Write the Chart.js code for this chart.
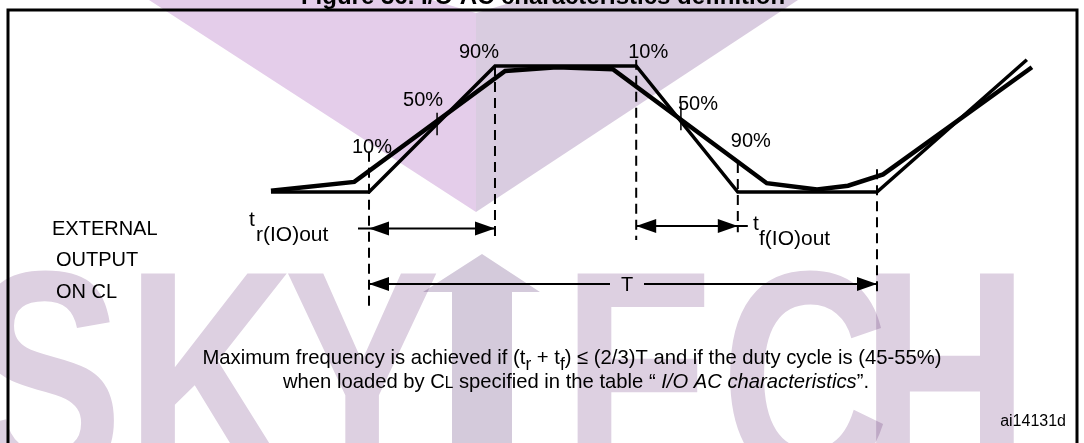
<!DOCTYPE html>
<html>
<head>
<meta charset="utf-8">
<script src="https://cdn.jsdelivr.net/npm/chart.js@4.4.1/dist/chart.umd.min.js"></script>
<style>
  html, body { margin: 0; padding: 0; background: #fff; }
  canvas { display: block; }
</style>
</head>
<body>
<canvas id="chart" width="1084" height="443"></canvas>
<script>
// time axis: 0 = 10% point of the rise (start of T), 100 = end of T
// level axis: 0 = low, 1 = high
const idealT = [-19.3, 0, 24.8, 52.6, 72.6, 100, 129.5];
const idealV = [0, 0, 1, 1, 0, 0, 1.05];
const loadedT = [-19.3, -2.9, 26.8, 37.0, 48.0, 78.3, 88.2, 94.3, 101.2, 130.5];
const loadedV = [0.01, 0.08, 0.96, 0.99, 0.975, 0.07, 0.02, 0.05, 0.14, 0.99];

const riseLabels = ['10%', '50%', '90%'];
const riseT = [0, 13.4, 24.8];
const fallLabels = ['10%', '50%', '90%'];
const fallT = [52.6, 61.4, 72.6];
const periodT = [0, 100];

const FONT = '"Liberation Sans", Arial, sans-serif';

// guide lines: [time, top level, bottom level, dashed]
const guides = [
  [riseT[0], 0.32, -0.91, true],
  [riseT[1], 0.63, 0.45, false],
  [riseT[2], 1.0, -0.37, true],
  [fallT[0], 1.05, -0.38, true],
  [fallT[1], 0.71, 0.49, false],
  [fallT[2], 0.23, -0.32, true],
  [periodT[1], 0.18, -0.82, true]
];

const pts = (ts, vs) => ts.map((t, i) => ({x: t, y: vs[i]}));

const datasets = [
  {data: pts(loadedT, loadedV), borderColor: '#000', borderWidth: 4.5, pointRadius: 0, tension: 0, borderJoinStyle: 'miter'},
  {data: pts(idealT, idealV), borderColor: '#000', borderWidth: 3.5, pointRadius: 0, tension: 0, borderJoinStyle: 'miter'}
];
guides.forEach(g => datasets.push({
  data: [{x: g[0], y: g[1]}, {x: g[0], y: g[2]}],
  borderColor: '#000', borderWidth: g[3] ? 2 : 1.5,
  borderDash: g[3] ? [10, 6] : [], pointRadius: 0
}));

function arrowHead(ctx, x, y, dir) {
  ctx.beginPath();
  ctx.moveTo(x, y);
  ctx.lineTo(x - dir * 20, y - 7);
  ctx.lineTo(x - dir * 20, y + 7);
  ctx.closePath();
  ctx.fill();
}

function hline(ctx, x1, x2, y) {
  ctx.beginPath(); ctx.moveTo(x1, y); ctx.lineTo(x2, y); ctx.stroke();
}

// rich text: segments {t, sub, it, sc}, stretched to a given width
function rich(ctx, segs, cx, y, size, width) {
  const f = s => (s.it ? 'italic ' : '') + Math.round(size * (s.sc ? 0.78 : s.sub ? 0.85 : 1)) + 'px ' + FONT;
  let w = 0;
  segs.forEach(s => { ctx.font = f(s); w += ctx.measureText(s.t).width; });
  ctx.save();
  ctx.translate(cx, y);
  ctx.scale(width / w, 1);
  let x = -w / 2;
  segs.forEach(s => {
    ctx.font = f(s);
    ctx.fillText(s.t, x, s.sub ? size * 0.28 : 0);
    x += ctx.measureText(s.t).width;
  });
  ctx.restore();
}

const sketch = {
  id: 'sketch',
  afterDatasetsDraw(chart) {
    const {ctx, scales: {x, y}} = chart;
    const px = t => x.getPixelForValue(t), py = v => y.getPixelForValue(v);
    ctx.save();
    ctx.fillStyle = '#000';
    ctx.strokeStyle = '#000';
    ctx.textBaseline = 'alphabetic';

    // percentage labels
    ctx.font = '20px ' + FONT;
    ctx.textAlign = 'center';
    const riseOff = [[3, 153], [-14, 106], [-16, 58]];
    riseLabels.forEach((l, i) => ctx.fillText(l, px(riseT[i]) + riseOff[i][0], riseOff[i][1]));
    const fallOff = [[12, 58], [17, 110], [13, 147]];
    fallLabels.forEach((l, i) => ctx.fillText(l, px(fallT[i]) + fallOff[i][0], fallOff[i][1]));

    // rise time arrow
    ctx.lineWidth = 2;
    const yr = py(-0.29);
    hline(ctx, px(riseT[0]) - 11, px(riseT[2]), yr);
    arrowHead(ctx, px(riseT[0]), yr, -1);
    arrowHead(ctx, px(riseT[2]), yr, 1);
    // fall time arrow
    const yf = py(-0.27);
    hline(ctx, px(fallT[0]), px(fallT[2]) + 10, yf);
    arrowHead(ctx, px(fallT[0]), yf, -1);
    arrowHead(ctx, px(fallT[2]), yf, 1);
    // period arrow
    const yT = py(-0.73);
    const tc = px((periodT[0] + periodT[1]) / 2) + 4;
    hline(ctx, px(periodT[0]), tc - 17, yT);
    hline(ctx, tc + 17, px(periodT[1]), yT);
    arrowHead(ctx, px(periodT[0]), yT, -1);
    arrowHead(ctx, px(periodT[1]), yT, 1);
    ctx.font = '20px ' + FONT;
    ctx.fillText('T', tc, yT + 7);

    // timing labels
    ctx.textAlign = 'left';
    ctx.font = '21px ' + FONT;
    ctx.fillText('t', 249, 226);
    ctx.fillText('r(IO)out', 256, 241);
    ctx.fillText('t', 753, 230);
    ctx.fillText('f(IO)out', 759, 245);

    ctx.font = '20px ' + FONT;
    ctx.fillText('EXTERNAL', 52, 235);
    ctx.fillText('OUTPUT', 56, 266);
    ctx.fillText('ON CL', 56, 298);

    // note
    rich(ctx, [
      {t: 'Maximum frequency is achieved if (t'}, {t: 'r', sub: 1}, {t: ' + t'}, {t: 'f', sub: 1},
      {t: ') \u2264 (2/3)T and if the duty cycle is (45-55%)'}
    ], 572, 364, 21, 739);
    rich(ctx, [
      {t: 'when loaded by C'}, {t: 'L', sc: 1}, {t: ' specified in the table \u201c '},
      {t: 'I/O AC characteristics', it: 1}, {t: '\u201d.'}
    ], 576, 388, 21, 586);

    ctx.font = '16px ' + FONT;
    ctx.textAlign = 'right';
    ctx.fillText('ai14131d', 1066, 426);

    // frame and cut-off title
    ctx.lineWidth = 3;
    ctx.beginPath();
    ctx.moveTo(8, 460); ctx.lineTo(8, 10); ctx.lineTo(1077, 10); ctx.lineTo(1077, 460);
    ctx.stroke();
    ctx.font = 'bold 24px ' + FONT;
    ctx.textAlign = 'center';
    ctx.fillText('Figure 36. I/O AC characteristics definition', 543, 4);
    ctx.restore();
  },
  afterDraw(chart) {
    const ctx = chart.ctx;
    ctx.save();
    ctx.globalCompositeOperation = 'multiply';
    // top V
    ctx.fillStyle = '#e4cdea';
    ctx.beginPath();
    ctx.moveTo(149, 0); ctx.lineTo(432, 0); ctx.lineTo(476, 13); ctx.lineTo(476, 212); ctx.closePath();
    ctx.fill();
    ctx.fillStyle = '#d9cce0';
    ctx.beginPath();
    ctx.moveTo(476, 13); ctx.lineTo(520, 0); ctx.lineTo(798, 0); ctx.lineTo(476, 212); ctx.closePath();
    ctx.fill();
    // SKYTECH letters
    ctx.fillStyle = '#ddd0e1';
    ctx.font = 'bold 300px ' + FONT;
    ctx.textAlign = 'center';
    ctx.textBaseline = 'alphabetic';
    [['S', 45], ['K', 210], ['Y', 362], ['E', 640], ['C', 805], ['H', 945]].forEach(([c, cx]) => {
      ctx.save();
      ctx.translate(cx, 480);
      ctx.scale(0.78, 1);
      ctx.fillText(c, 0, 0);
      ctx.restore();
    });
    // arrow-shaped T
    ctx.fillStyle = '#d4cadb';
    ctx.beginPath();
    ctx.moveTo(482, 254); ctx.lineTo(540, 292); ctx.lineTo(512, 292); ctx.lineTo(512, 443);
    ctx.lineTo(452, 443); ctx.lineTo(452, 292); ctx.lineTo(423, 292); ctx.closePath();
    ctx.fill();
    ctx.restore();
  }
};

new Chart(document.getElementById('chart'), {
  type: 'line',
  data: {datasets},
  options: {
    responsive: false,
    animation: false,
    devicePixelRatio: 1,
    layout: {padding: 0},
    plugins: {legend: {display: false}, tooltip: {enabled: false}, title: {display: false}},
    scales: {
      x: {type: 'linear', display: false, min: -72.64, max: 140.75},
      y: {type: 'linear', display: false, min: -1.992, max: 1.524}
    }
  },
  plugins: [sketch]
});
</script>
</body>
</html>
